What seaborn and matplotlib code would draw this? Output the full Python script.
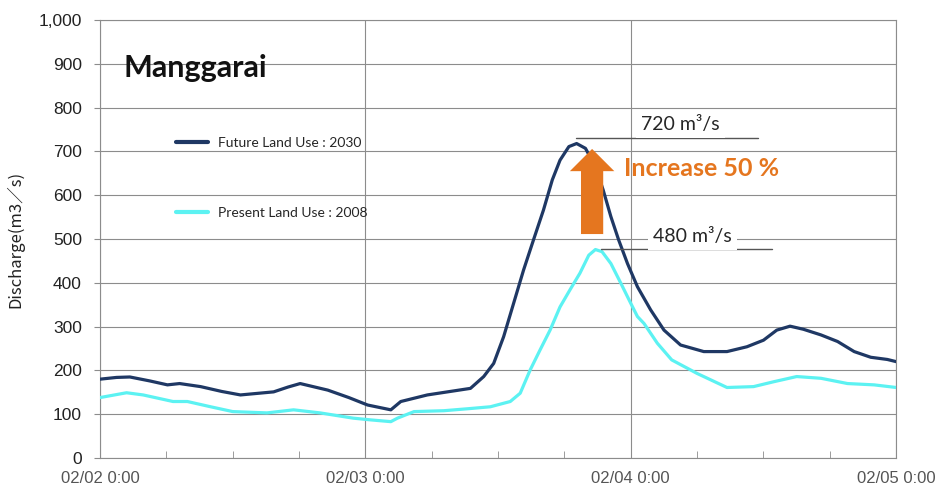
import matplotlib
matplotlib.use("Agg")
import matplotlib.pyplot as plt
import seaborn as sns
import numpy as np
import pandas as pd
from matplotlib.ticker import FuncFormatter, MultipleLocator

# ---- data (hours since 02/02 0:00, discharge m3/s) ----
future_hours = [0, 1.5, 2.7, 4.5, 6.1, 7.2, 9.1, 11, 12.7, 15.7, 17, 18.1, 20.6, 22.5, 24.2,
                26.3, 27.2, 29.6, 33.5, 34.7, 35.6, 36.5, 37.4, 38.3, 39.2, 40.1, 40.9,
                41.6, 42.4, 43.1, 43.9, 44.8, 45.5, 46.2, 46.9, 47.7, 48.6, 49.8, 51.0,
                52.5, 54.6, 56.7, 58.5, 60.0, 61.2, 62.4, 63.6, 65.2, 66.7, 68.2, 69.7,
                71.2, 72]
future_vals = [180, 184, 185, 176, 167, 170, 163, 152, 144, 151, 162, 170, 155, 138, 121,
               110, 129, 144, 159, 186, 216, 277, 353, 429, 498, 566, 635,
               680, 711, 718, 707, 665, 612, 551, 498, 444, 391, 338, 292,
               258, 243, 243, 254, 269, 292, 301, 294, 281, 266, 243, 230,
               225, 220]

present_hours = [0, 2.4, 3.9, 6.6, 7.9, 10, 12, 15.1, 17.5, 19.9, 22.9, 24.5, 26.3, 26.9,
                 28.4, 31.1, 33.5, 35.3, 37.1, 38.0, 38.9, 39.8, 40.7, 41.6, 42.5, 43.4,
                 44.2, 44.8, 45.4, 46.2, 47.1, 48.0, 48.6, 49.2, 50.4, 51.7, 54.0, 56.7,
                 59.1, 60.9, 63.0, 65.2, 67.6, 70.0, 72]
present_vals = [138, 149, 144, 129, 129, 117, 106, 103, 110, 103, 91, 87, 83, 91,
                106, 108, 113, 117, 129, 148, 201, 247, 292, 345, 384, 422,
                463, 476, 471, 444, 399, 353, 323, 307, 262, 224, 193, 161,
                163, 174, 186, 182, 170, 167, 161]

series_labels = ["Future Land Use : 2030", "Present Land Use : 2008"]
x_tick_hours = [0, 24, 48, 72]
x_tick_labels = ["02/02 0:00", "02/03 0:00", "02/04 0:00", "02/05 0:00"]
peak_labels = ["720 m\u00b3/s", "480 m\u00b3/s"]
increase_label = "Increase 50 %"
title_text = "Manggarai"
y_label = "Discharge(m3\uff0fs)"

# ---- plotting ----
sns.set_style("white")
plt.rcParams['font.family'] = ['Lato', 'DejaVu Sans']

fig = plt.figure(figsize=(9.4, 4.98), dpi=100)
ax = fig.add_axes([0.1064, 0.0803, 0.847, 0.8795])

navy = "#1F3864"
cyan = "#5CF2F2"
grid_c = "#8C8C8C"
orange = "#E5761F"

df_f = pd.DataFrame({"hour": future_hours, "q": future_vals})
df_p = pd.DataFrame({"hour": present_hours, "q": present_vals})
sns.lineplot(data=df_f, x="hour", y="q", ax=ax, color=navy, lw=2.3, label=series_labels[0],
             zorder=4, solid_joinstyle="round", solid_capstyle="round")
sns.lineplot(data=df_p, x="hour", y="q", ax=ax, color=cyan, lw=2.3, label=series_labels[1],
             zorder=3, solid_joinstyle="round", solid_capstyle="round")

ax.set_xlim(0, 72)
ax.set_ylim(0, 1000)
ax.yaxis.set_major_locator(MultipleLocator(100))
ax.yaxis.set_major_formatter(FuncFormatter(lambda v, p: f"{int(v):,}"))
ax.set_xticks(x_tick_hours)
ax.set_xticklabels(x_tick_labels)
ax.xaxis.set_minor_locator(MultipleLocator(6))

ax.grid(True, which="major", color=grid_c, lw=0.8)
ax.set_axisbelow(True)
for s in ax.spines.values():
    s.set_color(grid_c)
    s.set_linewidth(0.8)

ax.tick_params(axis="y", which="major", direction="out", length=4, color=grid_c,
               labelsize=12.5, labelcolor="#222222", pad=9, left=True)
ax.tick_params(axis="x", which="major", direction="in", length=0, labelsize=12,
               labelcolor="#555555", pad=9, bottom=True)
ax.tick_params(axis="x", which="minor", direction="in", length=5, color=grid_c, bottom=True)
for lbl in ax.get_yticklabels() + ax.get_xticklabels():
    lbl.set_fontfamily(["Liberation Sans", "DejaVu Sans"])

ax.set_xlabel("")
ax.set_ylabel(y_label, fontsize=12, labelpad=10,
              fontfamily=["Noto Sans CJK JP", "DejaVu Sans"], color="#222222")

# title inside
ax.text(2.1, 890, title_text, fontsize=22, fontweight="bold", color="#111111",
        ha="left", va="center")

# legend
leg = ax.legend(loc="upper left", bbox_to_anchor=(0.080, 0.762), frameon=False,
                fontsize=10, labelspacing=4.2, handlelength=2.3, handletextpad=0.7)
for line in leg.get_lines():
    line.set_linewidth(3)

# peak annotations
ax.plot([43, 59.5], [730, 730], color="#555555", lw=1.0, zorder=5)
ax.plot([45.3, 60.8], [477, 477], color="#555555", lw=1.0, zorder=5)
ax.text(52.5, 762, peak_labels[0], fontsize=14, ha="center", va="center", zorder=6,
        bbox=dict(boxstyle="square,pad=0.25", fc="white", ec="none"))
ax.text(53.6, 505, peak_labels[1], fontsize=14, ha="center", va="center", zorder=6,
        bbox=dict(boxstyle="square,pad=0.25", fc="white", ec="none"))

# arrow
ax.annotate("", xy=(44.5, 712), xytext=(44.5, 505),
            arrowprops=dict(arrowstyle="simple,head_length=0.8,head_width=1.6,tail_width=0.8",
                            fc=orange, ec="none", mutation_scale=20), zorder=7)
ax.text(47.4, 662, increase_label, fontsize=18, fontweight="bold", color=orange,
        ha="left", va="center", zorder=7)

fig.savefig("out.png", dpi=100)
